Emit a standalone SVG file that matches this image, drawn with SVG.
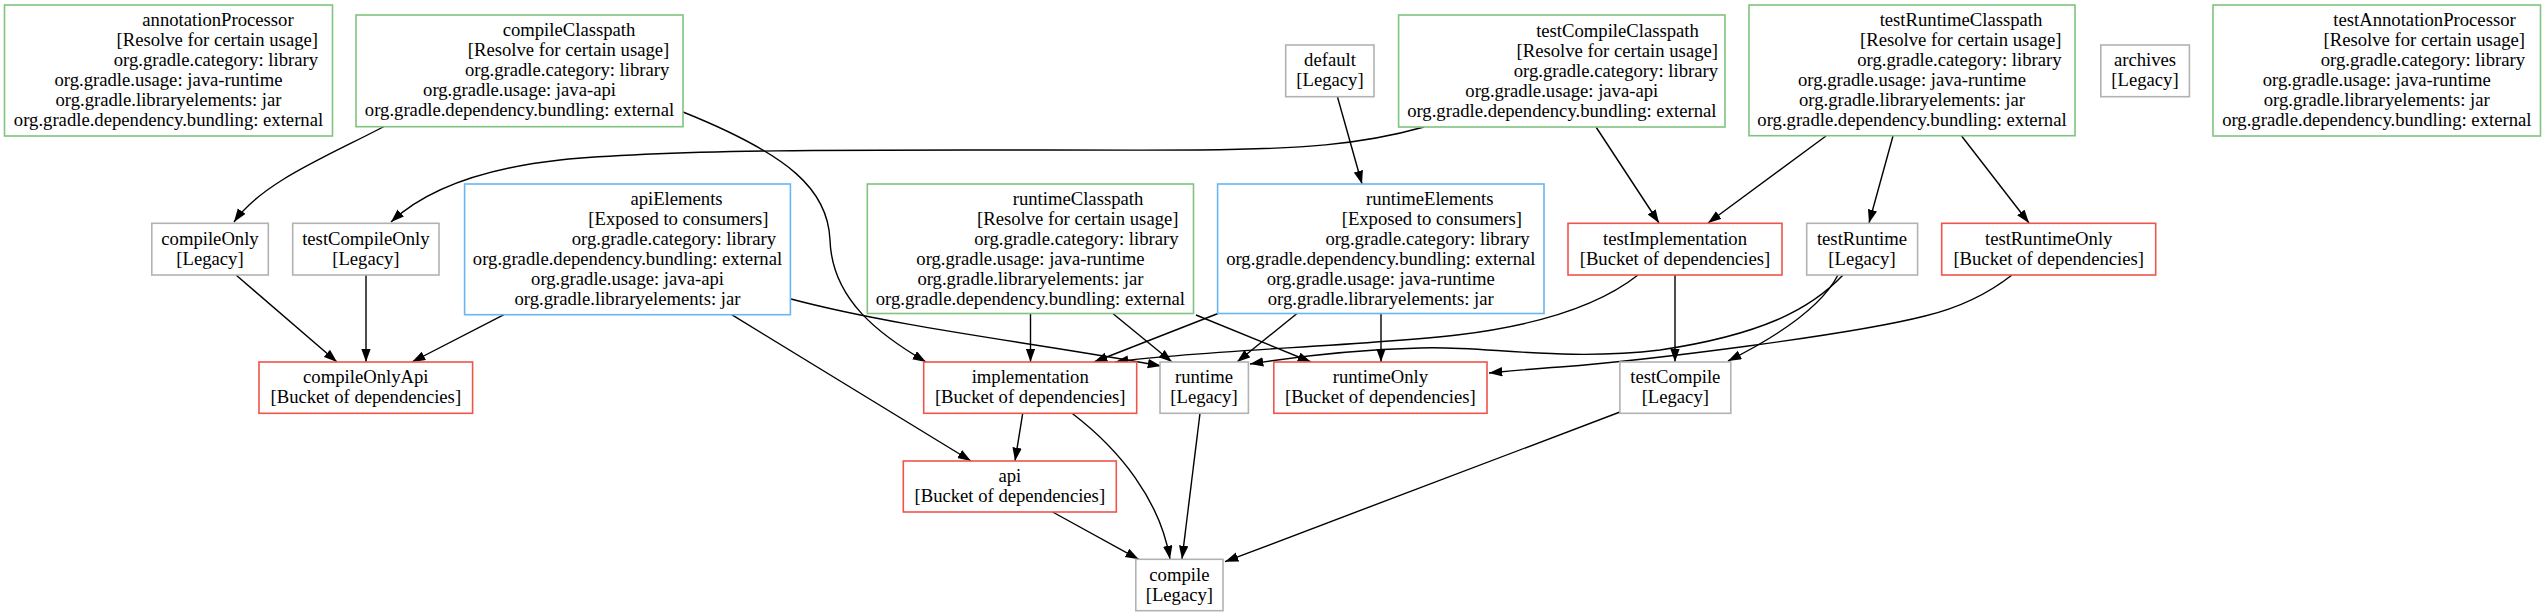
<svg xmlns="http://www.w3.org/2000/svg" width="2545" height="616" viewBox="0 0 2545 616">
<style>
rect{fill:#fff;stroke-width:1.6}
.g{stroke:#7fc47f}
.b{stroke:#68b6f4}
.r{stroke:#f0544a}
.k{stroke:#b2b2b2}
text{font-family:"Liberation Serif","Times New Roman",serif;font-size:18.67px;fill:#000}
.m{text-anchor:middle}
.e{text-anchor:end}
#edges path{fill:none;stroke:#000;stroke-width:1.4;marker-end:url(#ah)}
</style>
<defs>
<marker id="ah" markerUnits="userSpaceOnUse" markerWidth="14" markerHeight="10" refX="13.3" refY="4.7" orient="auto">
<path d="M0,0 L13.3,4.7 L0,9.4 z" fill="#000"/>
</marker>
</defs>
<rect x="0" y="0" width="2545" height="616" style="fill:#fff;stroke:none"/>
<g id="edges">
<path d="M385,126 C330,155 262,182 234,222"/>
<path d="M683,112 C790,155 828,190 830,240 C832,300 880,335 926,362"/>
<path d="M1424,127 C1360,145 1300,149 1200,150 C1000,151 700,146 560,160 C470,170 420,195 391,222"/>
<path d="M1596,127 L1659,223"/>
<path d="M1337.5,97 L1362,184"/>
<path d="M1826,136 L1708,223"/>
<path d="M1893,136 L1869,223"/>
<path d="M1961.6,136 L2029,223"/>
<path d="M236,275 L337,362"/>
<path d="M366,275 L366,362"/>
<path d="M504,314.7 L412,362"/>
<path d="M731.7,314.7 L971,461"/>
<path d="M791,299 C900,328 1050,345 1161,366"/>
<path d="M1030.5,313.5 L1030.5,362"/>
<path d="M1112.8,313.5 L1172,362"/>
<path d="M1196,315 L1311,362"/>
<path d="M1218,313.5 L1094,362"/>
<path d="M1297,313.5 L1237,362"/>
<path d="M1381,313.5 L1381,362"/>
<path d="M1638,275 C1600,305 1540,325 1457,335 C1350,347 1200,350 1115,362"/>
<path d="M1675,275 L1675,362"/>
<path d="M1843,275 C1810,310 1760,335 1660,350 C1560,362 1480,345 1420,348 C1350,350 1300,356 1250,364"/>
<path d="M1838,275 C1825,300 1790,330 1728,361"/>
<path d="M2012,275 C1980,300 1950,310 1925,316 C1850,335 1650,360 1560,367 C1530,369 1510,371 1489,373"/>
<path d="M1022.7,413.3 L1015,461"/>
<path d="M1072,413.3 C1120,450 1160,500 1170,559"/>
<path d="M1200,413.3 L1182,559"/>
<path d="M1052.6,512 L1138.7,559.3"/>
<path d="M1620,412 L1225,561.7"/>
</g>
<g id="annotationProcessor">
<rect class="g" x="4.5" y="5" width="328" height="131"/>
<text class="m" x="218" y="26">annotationProcessor</text>
<text class="e" x="318" y="46">[Resolve for certain usage]</text>
<text class="e" x="318" y="66">org.gradle.category: library</text>
<text class="m" x="168.5" y="86">org.gradle.usage: java-runtime</text>
<text class="m" x="168.5" y="106">org.gradle.libraryelements: jar</text>
<text class="m" x="168.5" y="126">org.gradle.dependency.bundling: external</text>
</g>
<g id="compileClasspath">
<rect class="g" x="356" y="15" width="327" height="111.7"/>
<text class="m" x="569" y="36.3">compileClasspath</text>
<text class="e" x="669.3" y="56.3">[Resolve for certain usage]</text>
<text class="e" x="669.3" y="76.3">org.gradle.category: library</text>
<text class="m" x="519.5" y="96.3">org.gradle.usage: java-api</text>
<text class="m" x="519.5" y="116.3">org.gradle.dependency.bundling: external</text>
</g>
<g id="default">
<rect class="k" x="1285.7" y="45" width="88.3" height="51.7"/>
<text class="m" x="1330" y="66.3">default</text>
<text class="m" x="1330" y="86.3">[Legacy]</text>
</g>
<g id="testCompileClasspath">
<rect class="g" x="1398.6" y="15" width="326.4" height="112"/>
<text class="m" x="1617.5" y="36.5">testCompileClasspath</text>
<text class="e" x="1718" y="56.5">[Resolve for certain usage]</text>
<text class="e" x="1718" y="76.5">org.gradle.category: library</text>
<text class="m" x="1561.8" y="96.5">org.gradle.usage: java-api</text>
<text class="m" x="1561.8" y="116.5">org.gradle.dependency.bundling: external</text>
</g>
<g id="testRuntimeClasspath">
<rect class="g" x="1749" y="5" width="326" height="130.7"/>
<text class="m" x="1961" y="26">testRuntimeClasspath</text>
<text class="e" x="2061.5" y="46">[Resolve for certain usage]</text>
<text class="e" x="2061.5" y="66">org.gradle.category: library</text>
<text class="m" x="1912" y="86">org.gradle.usage: java-runtime</text>
<text class="m" x="1912" y="106">org.gradle.libraryelements: jar</text>
<text class="m" x="1912" y="126">org.gradle.dependency.bundling: external</text>
</g>
<g id="archives">
<rect class="k" x="2100.8" y="45" width="88.6" height="51.7"/>
<text class="m" x="2145" y="66.3">archives</text>
<text class="m" x="2145" y="86.3">[Legacy]</text>
</g>
<g id="testAnnotationProcessor">
<rect class="g" x="2213" y="5" width="327.5" height="131"/>
<text class="m" x="2424.5" y="26">testAnnotationProcessor</text>
<text class="e" x="2525" y="46">[Resolve for certain usage]</text>
<text class="e" x="2525" y="66">org.gradle.category: library</text>
<text class="m" x="2376.8" y="86">org.gradle.usage: java-runtime</text>
<text class="m" x="2376.8" y="106">org.gradle.libraryelements: jar</text>
<text class="m" x="2376.8" y="126">org.gradle.dependency.bundling: external</text>
</g>
<g id="compileOnly">
<rect class="k" x="151.8" y="223.3" width="116.5" height="51.7"/>
<text class="m" x="210" y="244.7">compileOnly</text>
<text class="m" x="210" y="264.7">[Legacy]</text>
</g>
<g id="testCompileOnly">
<rect class="k" x="292.7" y="223.3" width="146.3" height="51.7"/>
<text class="m" x="365.9" y="244.7">testCompileOnly</text>
<text class="m" x="365.9" y="264.7">[Legacy]</text>
</g>
<g id="apiElements">
<rect class="b" x="464.6" y="184" width="325.8" height="130.7"/>
<text class="m" x="676.5" y="204.8">apiElements</text>
<text class="e" x="768.6" y="224.8">[Exposed to consumers]</text>
<text class="e" x="776" y="244.8">org.gradle.category: library</text>
<text class="m" x="627.5" y="264.8">org.gradle.dependency.bundling: external</text>
<text class="m" x="627.5" y="284.8">org.gradle.usage: java-api</text>
<text class="m" x="627.5" y="304.8">org.gradle.libraryelements: jar</text>
</g>
<g id="runtimeClasspath">
<rect class="g" x="867.3" y="184" width="326.2" height="129.5"/>
<text class="m" x="1078" y="204.8">runtimeClasspath</text>
<text class="e" x="1178.5" y="224.8">[Resolve for certain usage]</text>
<text class="e" x="1178.5" y="244.8">org.gradle.category: library</text>
<text class="m" x="1030.4" y="264.8">org.gradle.usage: java-runtime</text>
<text class="m" x="1030.4" y="284.8">org.gradle.libraryelements: jar</text>
<text class="m" x="1030.4" y="304.8">org.gradle.dependency.bundling: external</text>
</g>
<g id="runtimeElements">
<rect class="b" x="1217.6" y="184" width="326.4" height="129.5"/>
<text class="m" x="1429.7" y="204.8">runtimeElements</text>
<text class="e" x="1522" y="224.8">[Exposed to consumers]</text>
<text class="e" x="1529.7" y="244.8">org.gradle.category: library</text>
<text class="m" x="1380.8" y="264.8">org.gradle.dependency.bundling: external</text>
<text class="m" x="1380.8" y="284.8">org.gradle.usage: java-runtime</text>
<text class="m" x="1380.8" y="304.8">org.gradle.libraryelements: jar</text>
</g>
<g id="testImplementation">
<rect class="r" x="1568" y="223.3" width="214" height="51.7"/>
<text class="m" x="1675" y="244.7">testImplementation</text>
<text class="m" x="1675" y="264.7">[Bucket of dependencies]</text>
</g>
<g id="testRuntime">
<rect class="k" x="1806.7" y="223.3" width="110.9" height="51.7"/>
<text class="m" x="1862" y="244.7">testRuntime</text>
<text class="m" x="1862" y="264.7">[Legacy]</text>
</g>
<g id="testRuntimeOnly">
<rect class="r" x="1941.7" y="223.3" width="214" height="51.7"/>
<text class="m" x="2048.7" y="244.7">testRuntimeOnly</text>
<text class="m" x="2048.7" y="264.7">[Bucket of dependencies]</text>
</g>
<g id="compileOnlyApi">
<rect class="r" x="259" y="362" width="213.6" height="51.3"/>
<text class="m" x="365.8" y="383.2">compileOnlyApi</text>
<text class="m" x="365.8" y="403.2">[Bucket of dependencies]</text>
</g>
<g id="implementation">
<rect class="r" x="923.7" y="362" width="213" height="51.3"/>
<text class="m" x="1030.2" y="383.2">implementation</text>
<text class="m" x="1030.2" y="403.2">[Bucket of dependencies]</text>
</g>
<g id="runtime">
<rect class="k" x="1160" y="362" width="88.4" height="51.3"/>
<text class="m" x="1204" y="383.2">runtime</text>
<text class="m" x="1204" y="403.2">[Legacy]</text>
</g>
<g id="runtimeOnly">
<rect class="r" x="1273.8" y="362" width="213.2" height="51.3"/>
<text class="m" x="1380.4" y="383.2">runtimeOnly</text>
<text class="m" x="1380.4" y="403.2">[Bucket of dependencies]</text>
</g>
<g id="testCompile">
<rect class="k" x="1619.9" y="362" width="110.9" height="51.3"/>
<text class="m" x="1675.3" y="383.2">testCompile</text>
<text class="m" x="1675.3" y="403.2">[Legacy]</text>
</g>
<g id="api">
<rect class="r" x="903.3" y="461" width="213" height="51"/>
<text class="m" x="1009.8" y="482">api</text>
<text class="m" x="1009.8" y="502">[Bucket of dependencies]</text>
</g>
<g id="compile">
<rect class="k" x="1135.8" y="559.3" width="87.2" height="51.4"/>
<text class="m" x="1179.4" y="580.5">compile</text>
<text class="m" x="1179.4" y="600.5">[Legacy]</text>
</g>
</svg>
